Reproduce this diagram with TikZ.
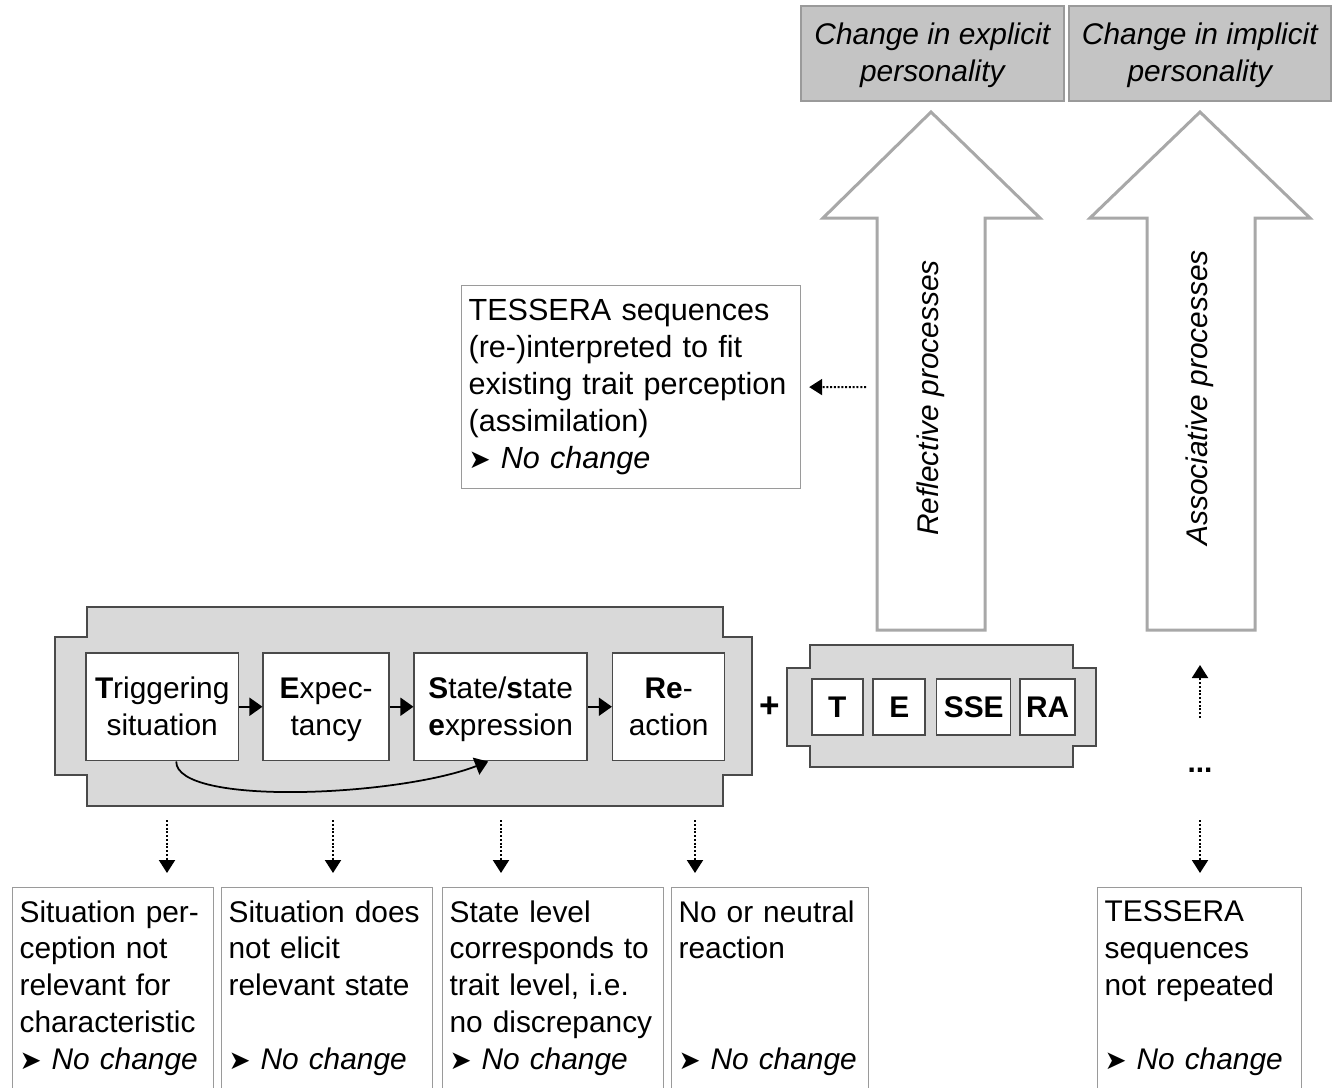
\documentclass[tikz,border=0pt]{standalone}
\usepackage{fontspec}
\setmainfont{Liberation Sans}
\newfontfamily\symfont{DejaVu Sans}
\usetikzlibrary{positioning,arrows.meta}

\definecolor{framegray}{HTML}{D9D9D9}
\definecolor{headgray}{HTML}{C4C4C4}
\definecolor{linegray}{HTML}{9A9A9A}
\definecolor{arrowgray}{HTML}{A8A8A8}
\definecolor{darkline}{HTML}{4A4A4A}

\newcommand{\nochg}{{\symfont\fontsize{15}{15}\selectfont ➤}~\textit{No change}}

\begin{document}
\begin{tikzpicture}[
  x=0.02cm, y=-0.02cm,
  font=\fontsize{17}{21}\selectfont,
  stagebox/.style={rectangle, draw=darkline, line width=0.03cm, fill=white,
                   minimum height=2.16cm, align=center, text height=39pt, text depth=6pt},
  codebox/.style={rectangle, draw=darkline, line width=0.03cm, fill=white,
                  minimum height=1.12cm, font=\fontsize{17}{21}\selectfont\bfseries},
  notebox/.style={rectangle, draw=linegray, line width=0.025cm, fill=white,
                  align=left, inner xsep=0.14cm, minimum height=4.02cm, anchor=north west},
  headbox/.style={rectangle, draw=linegray, line width=0.035cm, fill=headgray,
                  align=center, minimum height=1.9cm, anchor=north west,
                  font=\fontsize{17}{21}\selectfont\itshape, text height=38pt, text depth=6pt},
  frame/.style={draw=darkline, line width=0.04cm, fill=framegray},
  bigarrow/.style={draw=arrowgray, line width=0.06cm, fill=white, line join=miter},
  flow/.style={-{Triangle[length=0.26cm,width=0.36cm]}, line width=0.035cm},
  dotflow/.style={densely dotted, -{Triangle[length=0.26cm,width=0.32cm]}, line width=0.04cm}
]
\useasboundingbox (0,0) rectangle (1332,1088);

% outcomes
\node[headbox, minimum width=5.26cm] (expl) at (800,5) {Change in explicit\\personality};
\node[headbox, minimum width=5.24cm] (impl) at (1068,5) {Change in implicit\\personality};

% process arrows
\draw[bigarrow] (877,630) -- (877,218) -- (823,218) -- (931,112) -- (1040,218)
  -- (985,218) -- (985,630) -- cycle;
\draw[bigarrow] (1147,630) -- (1147,218) -- (1090,218) -- (1200,112) -- (1310,218)
  -- (1255,218) -- (1255,630) -- cycle;
\node[rotate=90, font=\fontsize{17}{21}\selectfont\itshape] (refl) at (931,398) {Reflective processes};
\node[rotate=90, font=\fontsize{17}{21}\selectfont\itshape] (assoc) at (1200,398) {Associative processes};

% assimilation
\node[notebox, text width=6.5cm, minimum height=4.06cm, font=\fontsize{17.4}{21}\selectfont] (assim) at (461,285)
  {TESSERA sequences\\(re-)interpreted to fit\\existing trait perception\\(assimilation)\\\nochg};
\coordinate (reflout) at (866,387);
\draw[dotflow, shorten >=0.16cm] (reflout) -- (assim.east);

% TESSERA sequence frame
\draw[frame] (87,607) -- (723,607) -- (723,637) -- (752,637) -- (752,775) -- (723,775)
  -- (723,806) -- (87,806) -- (87,775) -- (55,775) -- (55,637) -- (87,637) -- cycle;
\node[stagebox, minimum width=3.06cm, anchor=north west] (trig) at (85,652)
  {\textbf{T}riggering\\situation};
\node[stagebox, minimum width=2.52cm, right=0.46cm of trig] (expect)
  {\textbf{E}xpec-\\tancy};
\node[stagebox, minimum width=3.46cm, right=0.47cm of expect] (state)
  {\textbf{S}tate/\textbf{s}tate\\\textbf{e}xpression};
\node[stagebox, minimum width=2.24cm, right=0.48cm of state] (react)
  {\textbf{Re}-\\action};
\draw[flow] (trig) -- (expect);
\draw[flow] (expect) -- (state);
\draw[flow] (state) -- (react);
\draw[flow] ([xshift=0.28cm]trig.south) .. controls +(0,45) and +(-90,35) .. ([xshift=-0.25cm]state.south);

\node[font=\fontsize{20}{20}\selectfont\bfseries] (plus) at (770,707) {+};

% repeated sequence
\draw[frame] (810,645) -- (1073,645) -- (1073,668) -- (1096,668) -- (1096,746) -- (1073,746)
  -- (1073,767) -- (810,767) -- (810,746) -- (787,746) -- (787,668) -- (810,668) -- cycle;
\node[codebox, minimum width=1.02cm, anchor=west] (ct) at (811,707) {T};
\node[codebox, minimum width=1.04cm, right=0.18cm of ct] (ce) {E};
\node[codebox, minimum width=1.48cm, right=0.2cm of ce] (csse) {SSE};
\node[codebox, minimum width=1.06cm, right=0.16cm of csse] (cra) {RA};

% repetition
\node[font=\fontsize{17}{21}\selectfont\bfseries] (dots) at (1200,770) {...};
\coordinate (upstart) at (1200,718);
\coordinate (upend) at (1200,665);
\draw[dotflow] (upstart) -- (upend);
\node[notebox, text width=3.8cm] (tess) at (1097,887)
  {TESSERA\\sequences\\not repeated\\[21pt]\nochg};
\coordinate (dnstart) at (1200,820);
\draw[dotflow, shorten >=0.28cm] (dnstart) -- (dnstart |- tess.north);

% no change outcomes
\node[notebox, text width=3.74cm] (sit) at (12,887)
  {Situation per-\\ception not\\relevant for\\characteristic\\\nochg};
\node[notebox, text width=3.94cm] (elic) at (221,887)
  {Situation does\\not elicit\\relevant state\\[21pt]\nochg};
\node[notebox, text width=4.14cm] (corr) at (442,887)
  {State level\\corresponds to\\trait level, i.e.\\no discrepancy\\\nochg};
\node[notebox, text width=3.66cm] (neut) at (671,887)
  {No or neutral\\reaction\\[42pt]\nochg};
\foreach \xx/\nm in {167/sit, 333/elic, 501/corr, 695/neut} {
  \coordinate (src-\nm) at (\xx,820);
  \draw[dotflow, shorten >=0.28cm] (src-\nm) -- (src-\nm |- \nm.north);
}
\end{tikzpicture}
\end{document}
